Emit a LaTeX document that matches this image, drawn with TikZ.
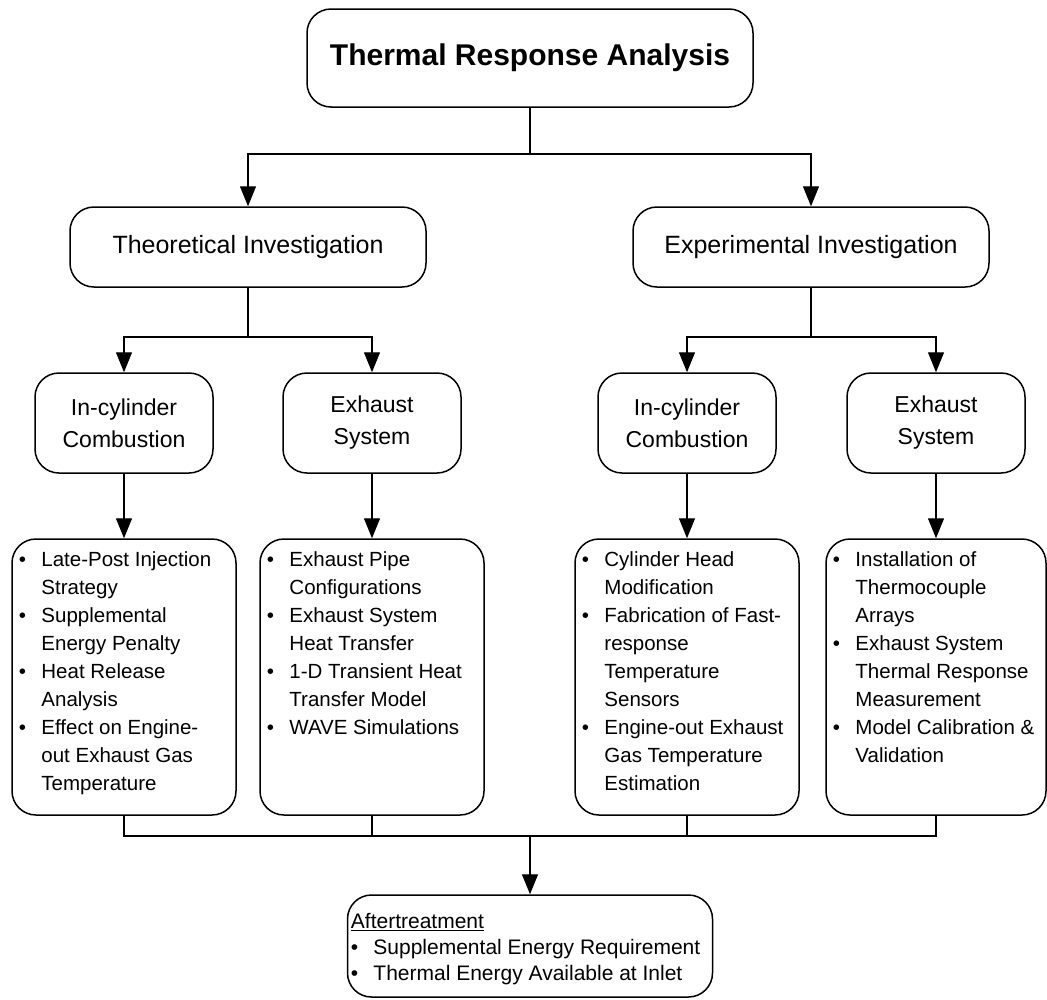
\documentclass[tikz,border=0pt]{standalone}
\usepackage{fontspec}
\setmainfont{Liberation Sans}
\usetikzlibrary{arrows.meta,positioning}
\newcommand{\bul}{\makebox[22.5pt][l]{\textbullet}}

\begin{document}
\begin{tikzpicture}
[box/.style={rectangle,draw,line width=1.5pt,rounded corners=24pt,inner sep=0pt},
 typeT/.style={box,minimum width=446pt,minimum height=98pt,font=\fontsize{30}{36}\selectfont\bfseries},
 typeI/.style={box,minimum width=356pt,minimum height=80pt,font=\fontsize{25}{30}\selectfont},
 typeS/.style={box,minimum width=178pt,minimum height=100pt,align=center,font=\fontsize{23}{32}\selectfont},
 typeL/.style={box,minimum width=224pt,minimum height=276pt},
 typeA/.style={box,minimum width=365pt,minimum height=102pt},
 list/.style={inner sep=0pt,font=\fontsize{20.5}{28}\selectfont},
 conn/.style={line width=1.3pt},
 arr/.style={conn,-{Triangle[length=20pt,width=16pt]}},
 hv path/.style={conn, to path={-| (\tikztotarget)}},
 vh path/.style={conn, to path={|- (\tikztotarget)}}]
\useasboundingbox (0,0) rectangle (1047pt,-999pt);
\begin{scope}[x=1pt, y=-1pt]
\node[typeT] (T)    at ( 530, 58) {Thermal Response Analysis};
\node[typeI] (TI)   at ( 248,247) {Theoretical Investigation};
\node[typeI] (EI)   at ( 811,247) {Experimental Investigation};
\node[typeS] (TC)   at ( 124,423) {In-cylinder\\Combustion};
\node[typeS] (TE)   at ( 372,423) {Exhaust\\System};
\node[typeS] (EC)   at ( 687,423) {In-cylinder\\Combustion};
\node[typeS] (EE)   at ( 936,423) {Exhaust\\System};
\node[typeL] (TCL)  at ( 124,677) {};
\node[typeL] (TEL)  at ( 372,677) {};
\node[typeL] (ECL)  at ( 687,677) {};
\node[typeL,minimum width=220pt] (EEL) at ( 936,677) {};
\node[typeA] (AT)   at ( 530,946) {};
% list texts
\node[list,below right=8.5pt and 7.5pt of TCL.north west] (TCt) {%
\begin{tabular}{@{}l@{}l@{}}
\bul & Late-Post Injection\\ & Strategy\\
\bul & Supplemental\\ & Energy Penalty\\
\bul & Heat Release\\ & Analysis\\
\bul & Effect on Engine-\\ & out Exhaust Gas\\ & Temperature
\end{tabular}};
\node[list,below right=8.5pt and 7.5pt of TEL.north west] (TEt) {%
\begin{tabular}{@{}l@{}l@{}}
\bul & Exhaust Pipe\\ & Configurations\\
\bul & Exhaust System\\ & Heat Transfer\\
\bul & 1-D Transient Heat\\ & Transfer Model\\
\bul & WAVE Simulations
\end{tabular}};
\node[list,below right=8.5pt and 7.5pt of ECL.north west] (ECt) {%
\begin{tabular}{@{}l@{}l@{}}
\bul & Cylinder Head\\ & Modification\\
\bul & Fabrication of Fast-\\ & response\\ & Temperature\\ & Sensors\\
\bul & Engine-out Exhaust\\ & Gas Temperature\\ & Estimation
\end{tabular}};
\node[list,below right=8.5pt and 7.5pt of EEL.north west] (EEt) {%
\begin{tabular}{@{}l@{}l@{}}
\bul & Installation of\\ & Thermocouple\\ & Arrays\\
\bul & Exhaust System\\ & Thermal Response\\ & Measurement\\
\bul & Model Calibration \&\\ & Validation
\end{tabular}};
\node[list,font=\fontsize{21}{26}\selectfont,below right=16pt and 4pt of AT.north west] (ATt) {%
\begin{tabular}{@{}l@{}l@{}}
\multicolumn{2}{@{}l@{}}{\underline{Aftertreatment}}\\
\bul & Supplemental Energy Requirement\\
\bul & Thermal Energy Available at Inlet
\end{tabular}};
\coordinate (split0) at ( 530,154);
\coordinate (split1) at ( 248,337);
\coordinate (split2) at ( 811,337);
\coordinate (join)   at ( 530,836);
\path (T.south)   edge[conn]          (split0)
      (split0)    edge[hv path,arr]   (TI.north)
                  edge[hv path,arr]   (EI.north)
      (TI.south)  edge[conn]          (split1)
      (split1)    edge[hv path,arr]   (TC.north)
                  edge[hv path,arr]   (TE.north)
      (EI.south)  edge[conn]          (split2)
      (split2)    edge[hv path,arr]   (EC.north)
                  edge[hv path,arr]   (EE.north)
      (TC.south)  edge[arr]           (TCL.north)
      (TE.south)  edge[arr]           (TEL.north)
      (EC.south)  edge[arr]           (ECL.north)
      (EE.south)  edge[arr]           (EEL.north)
      (TCL.south) edge[vh path]       (join)
      (TEL.south) edge[vh path]       (join)
      (ECL.south) edge[vh path]       (join)
      (EEL.south) edge[vh path]       (join)
      (join)      edge[arr]           (AT.north);
\end{scope}
\end{tikzpicture}
\end{document}
